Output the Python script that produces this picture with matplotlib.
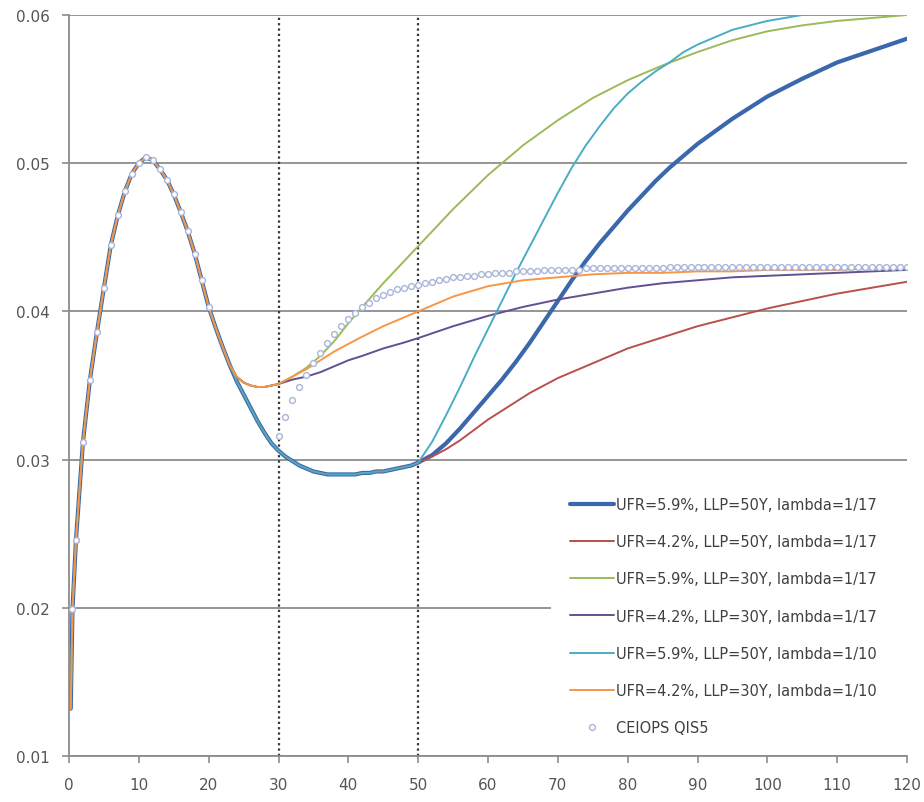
import matplotlib
matplotlib.use("Agg")
import matplotlib.pyplot as plt
import numpy as np

# ---------------- data ----------------
# common market-fitted part, shared by all six curves
t_common = [0.25, 0.5, 1, 2, 3, 4, 5, 6, 7, 8, 9, 10, 11, 12, 13, 14, 15,
            16, 17, 18, 19, 20, 21, 22, 23]
y_common = [0.0132, 0.0199, 0.0246, 0.0312, 0.0354, 0.0386, 0.0416, 0.0445,
            0.0465, 0.0481, 0.0493, 0.0500, 0.0504, 0.0502, 0.0496, 0.0489,
            0.0479, 0.0467, 0.0454, 0.0439, 0.0421, 0.0403, 0.0389, 0.0376,
            0.0364]

# LLP = 30Y shared path up to 30
t_llp30 = [24, 25, 26, 27, 28, 29, 30]
y_llp30 = [0.0356, 0.0352, 0.0350, 0.0349, 0.0349, 0.0350, 0.0351]

# LLP = 50Y shared path up to 50
t_llp50 = [24, 25, 26, 27, 28, 29, 30, 31, 32, 33, 34, 35, 36, 37, 38, 39,
           40, 41, 42, 43, 44, 45, 46, 47, 48, 49, 50]
y_llp50 = [0.0353, 0.0344, 0.0335, 0.0326, 0.0318, 0.0311, 0.0306, 0.0302,
           0.0299, 0.0296, 0.0294, 0.0292, 0.0291, 0.0290, 0.0290, 0.0290,
           0.0290, 0.0290, 0.0291, 0.0291, 0.0292, 0.0292, 0.0293, 0.0294,
           0.0295, 0.0296, 0.0298]

# extrapolated tails after LLP = 30Y
t_tail30 = [32, 34, 36, 38, 40, 42, 45, 48, 50, 55, 60, 65, 70, 75, 80, 85,
            90, 95, 100, 105, 110, 115, 120]
green_tail = [0.0356, 0.0362, 0.0370, 0.0380, 0.0392, 0.0403, 0.0419, 0.0434,
              0.0444, 0.0469, 0.0492, 0.0512, 0.0529, 0.0544, 0.0556, 0.0566,
              0.0575, 0.0583, 0.0589, 0.0593, 0.0596, 0.0598, 0.0600]
purple_tail = [0.0354, 0.0356, 0.0359, 0.0363, 0.0367, 0.0370, 0.0375, 0.0379,
               0.0382, 0.0390, 0.0397, 0.0403, 0.0408, 0.0412, 0.0416, 0.0419,
               0.0421, 0.0423, 0.0424, 0.0425, 0.0426, 0.0427, 0.0428]
orange_tail = [0.0356, 0.0361, 0.0367, 0.0373, 0.0378, 0.0383, 0.0390, 0.0396,
               0.0400, 0.0410, 0.0417, 0.0421, 0.0423, 0.0425, 0.0426, 0.0426,
               0.0427, 0.0427, 0.0428, 0.0428, 0.0428, 0.0429, 0.0429]

# extrapolated tails after LLP = 50Y
t_tail50 = [52, 54, 56, 58, 60, 62, 64, 66, 68, 70, 72, 74, 76, 78, 80, 82,
            84, 86, 88, 90, 95, 100, 105, 110, 115, 120]
blue_tail = [0.0303, 0.0311, 0.0321, 0.0332, 0.0343, 0.0354, 0.0366, 0.0379,
             0.0393, 0.0407, 0.0421, 0.0434, 0.0446, 0.0457, 0.0468, 0.0478,
             0.0488, 0.0497, 0.0505, 0.0513, 0.0530, 0.0545, 0.0557, 0.0568,
             0.0576, 0.0584]
cyan_tail = [0.0312, 0.0330, 0.0349, 0.0369, 0.0388, 0.0407, 0.0426, 0.0444,
             0.0462, 0.0480, 0.0497, 0.0512, 0.0525, 0.0537, 0.0547, 0.0555,
             0.0562, 0.0568, 0.0575, 0.0580, 0.0590, 0.0596, 0.0600, 0.0602,
             0.0603, 0.0604]
red_tail = [0.0302, 0.0307, 0.0313, 0.0320, 0.0327, 0.0333, 0.0339, 0.0345,
            0.0350, 0.0355, 0.0359, 0.0363, 0.0367, 0.0371, 0.0375, 0.0378,
            0.0381, 0.0384, 0.0387, 0.0390, 0.0396, 0.0402, 0.0407, 0.0412,
            0.0416, 0.0420]

# CEIOPS QIS5 points
t_qis_early = [0.5, 1, 2, 3, 4, 5, 6, 7, 8, 9, 10, 11, 12, 13, 14, 15, 16,
               17, 18, 19, 20]
y_qis_early = [0.0199, 0.0246, 0.0312, 0.0354, 0.0386, 0.0416, 0.0445, 0.0465,
               0.0481, 0.0493, 0.0500, 0.0504, 0.0502, 0.0496, 0.0489, 0.0479,
               0.0467, 0.0454, 0.0439, 0.0421, 0.0403]
t_qis_late = list(range(30, 121))
y_qis_late = [0.0316, 0.0329, 0.0340, 0.0349, 0.0357, 0.0365, 0.0372, 0.0379,
              0.0385, 0.0390, 0.0395, 0.0399, 0.0403, 0.0406, 0.0409, 0.0411,
              0.0413, 0.0415, 0.0416, 0.0417, 0.0418, 0.0419, 0.0420, 0.0421,
              0.0422, 0.0423, 0.0423, 0.0424, 0.0424, 0.0425, 0.0425, 0.0426,
              0.0426, 0.0426, 0.0427, 0.0427, 0.0427, 0.0427, 0.0428, 0.0428,
              0.0428, 0.0428, 0.0428, 0.0428, 0.0429, 0.0429, 0.0429, 0.0429,
              0.0429, 0.0429, 0.0429, 0.0429, 0.0429, 0.0429, 0.0429, 0.0429,
              0.0430, 0.0430, 0.0430, 0.0430, 0.0430, 0.0430, 0.0430, 0.0430,
              0.0430, 0.0430, 0.0430, 0.0430, 0.0430, 0.0430, 0.0430, 0.0430,
              0.0430, 0.0430, 0.0430, 0.0430, 0.0430, 0.0430, 0.0430, 0.0430,
              0.0430, 0.0430, 0.0430, 0.0430, 0.0430, 0.0430, 0.0430, 0.0430,
              0.0430, 0.0430, 0.0430]

labels = ["UFR=5.9%, LLP=50Y, lambda=1/17",
          "UFR=4.2%, LLP=50Y, lambda=1/17",
          "UFR=5.9%, LLP=30Y, lambda=1/17",
          "UFR=4.2%, LLP=30Y, lambda=1/17",
          "UFR=5.9%, LLP=50Y, lambda=1/10",
          "UFR=4.2%, LLP=30Y, lambda=1/10",
          "CEIOPS QIS5"]
llp_marks = [30, 50]
x_ticks = list(range(0, 121, 10))
y_ticks = [0.01, 0.02, 0.03, 0.04, 0.05, 0.06]

# ---------------- assemble series ----------------
def build(path_t, path_y, tail_t, tail_y):
    return (np.array(t_common + path_t + tail_t),
            np.array(y_common + path_y + tail_y))

series = [
    build(t_llp50, y_llp50, t_tail50, blue_tail),
    build(t_llp50, y_llp50, t_tail50, red_tail),
    build(t_llp30, y_llp30, t_tail30, green_tail),
    build(t_llp30, y_llp30, t_tail30, purple_tail),
    build(t_llp50, y_llp50, t_tail50, cyan_tail),
    build(t_llp30, y_llp30, t_tail30, orange_tail),
]
colors = ["#3b68ad", "#b8504b", "#9bbb59", "#654f93", "#4bacc6", "#f79646"]
widths = [3.0, 1.4, 1.4, 1.4, 1.4, 1.4]

# ---------------- plot ----------------
fig = plt.figure(figsize=(9.24, 8.03), dpi=100)
ax = fig.add_axes([69 / 924, 46 / 803, 838 / 924, 741 / 803])

for (tx, ty), c, w, lab in zip(series, colors, widths, labels[:6]):
    ax.plot(tx, ty, color=c, lw=w, label=lab, solid_capstyle="round",
            solid_joinstyle="round", zorder=2)

ax.plot(t_qis_early + t_qis_late, y_qis_early + y_qis_late, linestyle="none",
        marker="o", markersize=4.2, markerfacecolor="white",
        markeredgecolor="#a9b5d8", markeredgewidth=1.0, label=labels[6],
        zorder=3)

for xv in llp_marks:
    ax.axvline(xv, color="#333333", lw=1.6, linestyle=(0, (1, 1.4)), zorder=1)

ax.set_xlim(0, 120)
ax.set_ylim(0.01, 0.06)
ax.set_xticks(x_ticks)
ax.set_yticks(y_ticks)
ax.set_yticklabels([f"{v:.2f}" for v in y_ticks])
ax.set_axisbelow(True)
ax.yaxis.grid(True, color="#8c8c8c", lw=1.3)
for s in ["top", "right"]:
    ax.spines[s].set_visible(False)
for s in ["left", "bottom"]:
    ax.spines[s].set_color("#8c8c8c")
    ax.spines[s].set_linewidth(1.3)
ax.tick_params(axis="both", colors="#8c8c8c", length=5, width=1.2,
               labelcolor="#555555", labelsize=11)
ax.tick_params(axis="x", pad=10)
ax.tick_params(axis="y", pad=9)

leg = ax.legend(loc="upper left", bbox_to_anchor=(0.575, 0.0, 0.44, 0.375),
                mode="expand", borderaxespad=0, frameon=True, fancybox=False,
                facecolor="white", edgecolor="none", framealpha=1,
                fontsize=10.5, handlelength=3.0, handletextpad=0.15,
                labelspacing=1.52, borderpad=1.3, numpoints=1)
leg.set_zorder(2.4)
for txt in leg.get_texts():
    txt.set_color("#404040")

fig.savefig("out.png", dpi=100)
